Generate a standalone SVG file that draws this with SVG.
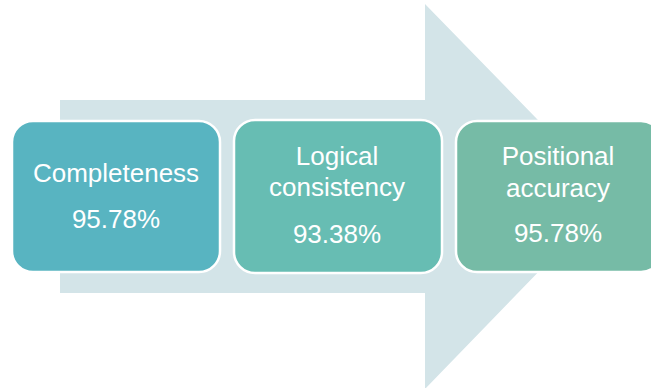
<svg xmlns="http://www.w3.org/2000/svg" width="651" height="388" viewBox="0 0 651 388">
<style>
.box{stroke:#ffffff;stroke-width:2.5}
.t{font-family:"Liberation Sans",Arial,sans-serif;font-size:26px;fill:#ffffff;text-anchor:middle}
</style>
<rect width="651" height="388" fill="#ffffff"/>
<g id="connectors">
<polygon points="60,100 425,100 425,4 612,196 425,389 425,293 60,293" fill="#d3e4e8"/>
</g>
<g id="node-completeness">
<rect class="box" x="12" y="121" width="208" height="151" rx="21" fill="#58b4c1"/>
<text class="t" x="116" y="182">Completeness</text>
<text class="t" x="116" y="228">95.78%</text>
</g>
<g id="node-logical">
<rect class="box" x="234" y="120" width="208" height="153" rx="21" fill="#67bdb3"/>
<text class="t" x="337" y="165">Logical</text>
<text class="t" x="337" y="196">consistency</text>
<text class="t" x="337" y="243">93.38%</text>
</g>
<g id="node-positional">
<rect class="box" x="456" y="121" width="206" height="151" rx="21" fill="#76bba6"/>
<text class="t" x="558" y="165">Positional</text>
<text class="t" x="558" y="197">accuracy</text>
<text class="t" x="558" y="242">95.78%</text>
</g>
</svg>
